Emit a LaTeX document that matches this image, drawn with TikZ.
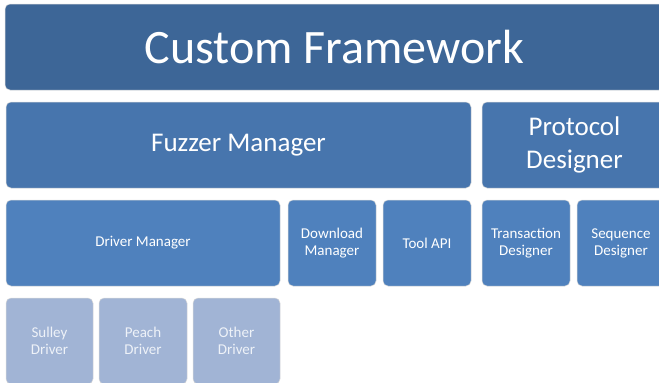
\documentclass[tikz,border=0pt]{standalone}
\usepackage{fontspec}
\setmainfont{Carlito}
\definecolor{cA}{HTML}{3D6697}
\definecolor{cB}{HTML}{4775AD}
\definecolor{cC}{HTML}{4F81BD}
\definecolor{cD}{HTML}{A1B4D5}
\definecolor{tD}{HTML}{EEF2F8}
\tikzset{
  blk/.style={rounded corners=5pt, draw=white!85!black, line width=0.5pt, inner sep=0pt, outer sep=0pt, align=center, text=white},
  lvlA/.style={blk, fill=cA, font=\fontsize{48}{56}\selectfont},
  lvlB/.style={blk, fill=cB, font=\fontsize{27}{33}\selectfont},
  lvlC/.style={blk, fill=cC, font=\fontsize{15}{17}\selectfont},
  lvlD/.style={blk, fill=cD, text=tD, font=\fontsize{15}{17}\selectfont},
}
\begin{document}
\begin{tikzpicture}[x=1pt,y=-1pt]
\useasboundingbox (0,0) rectangle (659,383);
\clip (0,0) rectangle (659,383);
\node[lvlA, minimum width=659pt, minimum height=86pt] (cf) at (334.5,47) {Custom Framework};
\node[lvlB, minimum width=465pt, minimum height=86pt] (fm) at (238.5,145) {Fuzzer Manager};
\node[lvlB, minimum width=185pt, minimum height=86pt] (pd) at (574.5,145) {Protocol\\Designer};
\node[lvlC, minimum width=274pt, minimum height=86pt] (dm) at (143,243) {Driver Manager};
\node[lvlC, minimum width=88pt, minimum height=86pt] (dl) at (332,243) {Download\\Manager};
\node[lvlC, minimum width=88pt, minimum height=86pt] (api) at (427,243) {Tool API};
\node[lvlC, minimum width=88pt, minimum height=86pt] (td) at (526,243) {Transaction\\Designer};
\node[lvlC, minimum width=88pt, minimum height=86pt] (sd) at (621,243) {Sequence\\Designer};
\node[lvlD, minimum width=87pt, minimum height=86pt] (su) at (49.5,341) {Sulley\\Driver};
\node[lvlD, minimum width=88pt, minimum height=86pt] (pe) at (143,341) {Peach\\Driver};
\node[lvlD, minimum width=87pt, minimum height=86pt] (ot) at (236.5,341) {Other\\Driver};
\end{tikzpicture}
\end{document}
